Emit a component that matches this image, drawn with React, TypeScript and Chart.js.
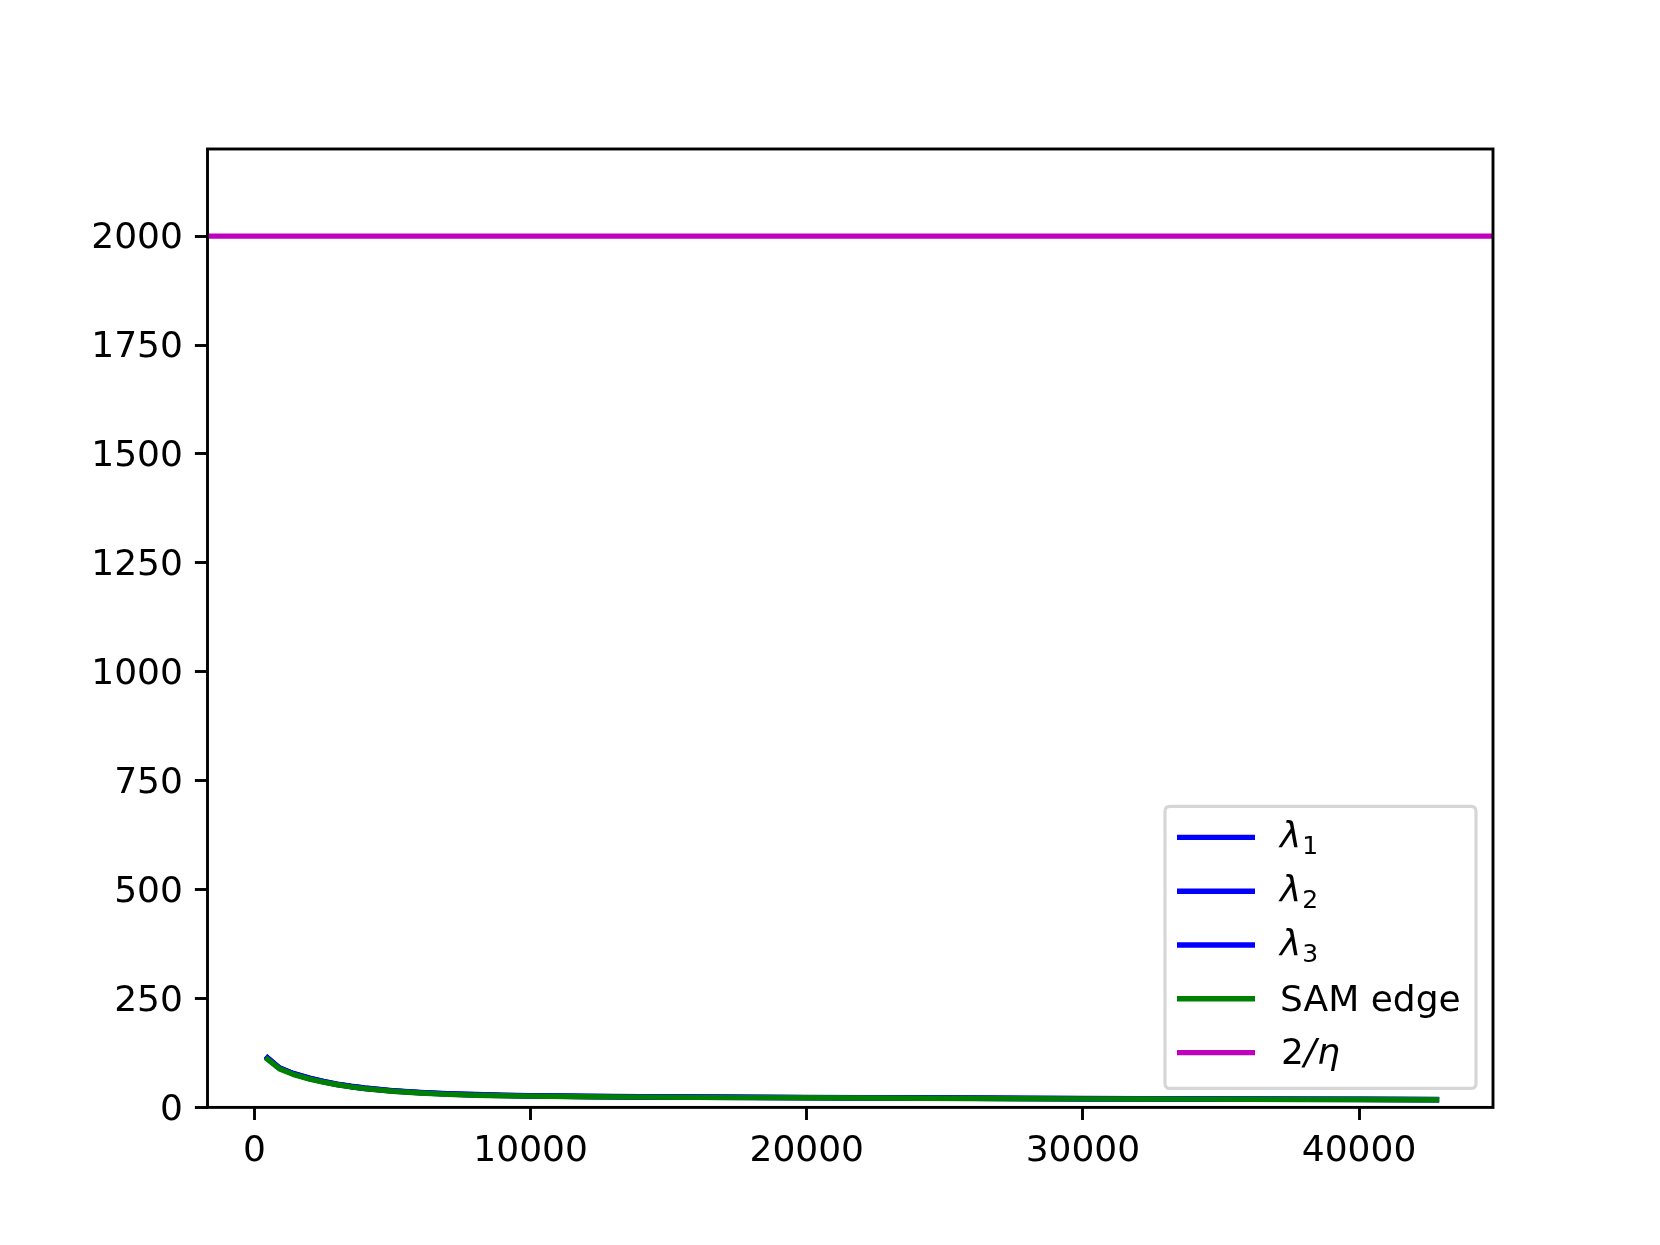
import React, { useEffect, useRef } from "react";
import { Chart, registerables } from "chart.js";
Chart.register(...registerables);

// ---- data ----
const steps = [400, 900, 1400, 2000, 2500, 3000, 3500, 4000, 5000, 6000, 7000, 8000, 9000, 10000, 12000, 14000, 16000, 18000, 20000, 22000, 24000, 26000, 28000, 30000, 32000, 34000, 36000, 38000, 40000, 42000, 42900];
const lambda1 = [118, 91, 78, 67, 59.5, 53.5, 48.5, 44.5, 38.5, 34.5, 31.5, 29.5, 28, 27, 25.5, 24.5, 24, 23.5, 23, 22.5, 22, 21.5, 21, 20.5, 20, 19.6, 19.3, 19, 18.7, 18.3, 18.1];
const lambda2 = [117, 90.5, 77.5, 66.5, 59, 53, 48, 44, 38, 34, 31, 29, 27.5, 26.5, 25, 24, 23.5, 23, 22.5, 22, 21.5, 21, 20.5, 20, 19.6, 19.3, 19, 18.7, 18.4, 18, 17.8];
const lambda3 = [116, 90, 77, 66, 58.5, 52.5, 47.5, 43.5, 37.5, 33.5, 30.5, 28.5, 27, 26, 24.8, 23.8, 23.2, 22.7, 22.2, 21.7, 21.2, 20.7, 20.2, 19.8, 19.4, 19.1, 18.8, 18.5, 18.2, 17.8, 17.6];
const samEdge = [114, 89, 76, 65, 58, 52, 47, 43, 37, 33, 30, 28, 26.8, 25.8, 24.5, 23.5, 23, 22.5, 22, 21.5, 21, 20.5, 20, 19.6, 19.2, 18.9, 18.6, 18.3, 18, 17.6, 17.4];
const etaLevel = 2000;

const xTickValues = [0, 10000, 20000, 30000, 40000];
const yTickValues = [0, 250, 500, 750, 1000, 1250, 1500, 1750, 2000];
const X_MIN = -1700;
const X_MAX = 44850;
const Y_MIN = 0;
const Y_MAX = 2200;

const legendEntries = [
  { kind: "lambda", sub: "1", color: "#0000ff" },
  { kind: "lambda", sub: "2", color: "#0000ff" },
  { kind: "lambda", sub: "3", color: "#0000ff" },
  { kind: "text", text: "SAM edge", color: "#008000" },
  { kind: "eta", color: "#bf00bf" },
];

const FONT = "'DejaVu Sans', sans-serif";
const LW = 5.4;

const toPoints = (xs: number[], ys: number[]) => xs.map((x, i) => ({ x, y: ys[i] }));

const framePlugin = {
  id: "frame",
  afterDatasetsDraw(chart: any) {
    const { ctx, chartArea: a } = chart;
    ctx.save();
    ctx.strokeStyle = "#000";
    ctx.lineWidth = 2.9;
    ctx.strokeRect(a.left, a.top, a.right - a.left, a.bottom - a.top);
    ctx.restore();
  },
};

const legendPlugin = {
  id: "mplLegend",
  afterDraw(chart: any) {
    const { ctx, chartArea: a } = chart;
    const boxRight = a.right - 17;
    const boxBottom = a.bottom - 19;
    const boxW = 311;
    const boxH = 282;
    const boxLeft = boxRight - boxW;
    const boxTop = boxBottom - boxH;
    ctx.save();
    const r = 5;
    ctx.beginPath();
    ctx.moveTo(boxLeft + r, boxTop);
    ctx.lineTo(boxRight - r, boxTop);
    ctx.quadraticCurveTo(boxRight, boxTop, boxRight, boxTop + r);
    ctx.lineTo(boxRight, boxBottom - r);
    ctx.quadraticCurveTo(boxRight, boxBottom, boxRight - r, boxBottom);
    ctx.lineTo(boxLeft + r, boxBottom);
    ctx.quadraticCurveTo(boxLeft, boxBottom, boxLeft, boxBottom - r);
    ctx.lineTo(boxLeft, boxTop + r);
    ctx.quadraticCurveTo(boxLeft, boxTop, boxLeft + r, boxTop);
    ctx.closePath();
    ctx.fillStyle = "rgba(255,255,255,0.8)";
    ctx.fill();
    ctx.strokeStyle = "rgba(204,204,204,0.8)";
    ctx.lineWidth = 3.2;
    ctx.stroke();

    const lineX0 = boxLeft + 12;
    const lineX1 = boxLeft + 90;
    const textX = boxLeft + 115;
    const row0 = boxTop + 31;
    const rowGap = 53.8;
    ctx.fillStyle = "#000";
    legendEntries.forEach((e, i) => {
      const y = row0 + i * rowGap;
      ctx.beginPath();
      ctx.moveTo(lineX0, y);
      ctx.lineTo(lineX1, y);
      ctx.strokeStyle = e.color;
      ctx.lineWidth = LW;
      ctx.lineCap = "butt";
      ctx.stroke();
      ctx.textBaseline = "alphabetic";
      ctx.textAlign = "left";
      if (e.kind === "lambda") {
        ctx.font = `oblique 36px ${FONT}`;
        ctx.fillText("λ", textX, y + 10);
        const w = ctx.measureText("λ").width;
        ctx.font = `25px ${FONT}`;
        ctx.fillText(e.sub as string, textX + w + 1, y + 16.5);
      } else if (e.kind === "text") {
        ctx.font = `36px ${FONT}`;
        ctx.fillText(e.text as string, textX, y + 12);
      } else {
        ctx.font = `36px ${FONT}`;
        ctx.fillText("2", textX + 1, y + 11);
        let x = textX + 1 + ctx.measureText("2").width;
        ctx.font = `oblique 36px ${FONT}`;
        ctx.fillText("/", x, y + 11);
        x += ctx.measureText("/").width + 1;
        ctx.fillText("η", x, y + 11);
      }
    });
    ctx.restore();
  },
};

export default function App() {
  const ref = useRef<HTMLCanvasElement>(null);
  useEffect(() => {
    document.body.style.margin = "0";
    const canvas = ref.current!;
    Chart.defaults.font.family = FONT;
    const mk = (label: string, ys: number[], color: string, order: number) => ({
      label,
      data: toPoints(steps, ys),
      borderColor: color,
      backgroundColor: color,
      borderWidth: LW,
      pointRadius: 0,
      tension: 0,
      fill: false,
      order,
      borderJoinStyle: "round" as const,
    });
    const chart = new Chart(canvas, {
      type: "line",
      data: {
        datasets: [
          mk("λ1", lambda1, "#0000ff", 3),
          mk("λ2", lambda2, "#0000ff", 2),
          mk("λ3", lambda3, "#0000ff", 1),
          mk("SAM edge", samEdge, "#008000", 0),
          {
            label: "2/η",
            data: [
              { x: X_MIN, y: etaLevel },
              { x: X_MAX, y: etaLevel },
            ],
            borderColor: "#bf00bf",
            backgroundColor: "#bf00bf",
            borderWidth: LW,
            pointRadius: 0,
            fill: false,
            order: 4,
          },
        ],
      },
      options: {
        responsive: false,
        animation: false,
        devicePixelRatio: 1,
        layout: { padding: { left: 0, right: 167, top: 149, bottom: 0 } },
        plugins: { legend: { display: false }, tooltip: { enabled: false } },
        scales: {
          x: {
            type: "linear",
            min: X_MIN,
            max: X_MAX,
            afterBuildTicks: (s: any) => {
              s.ticks = xTickValues.map((v) => ({ value: v }));
            },
            afterFit: (s: any) => {
              s.height = 137.6;
              s.paddingLeft = 0;
              s.paddingRight = 0;
            },
            grid: {
              drawOnChartArea: false,
              drawTicks: true,
              tickLength: 12.6,
              tickColor: "#000",
              tickWidth: 2.9,
            },
            border: { display: false },
            ticks: {
              color: "#000",
              font: { size: 36, family: FONT },
              padding: 10,
              maxRotation: 0,
              autoSkip: false,
              callback: (v: any) => String(v),
            },
          },
          y: {
            type: "linear",
            min: Y_MIN,
            max: Y_MAX,
            afterBuildTicks: (s: any) => {
              s.ticks = yTickValues.map((v) => ({ value: v }));
            },
            afterFit: (s: any) => {
              s.width = 207.5;
              s.paddingTop = 0;
              s.paddingBottom = 0;
            },
            grid: {
              drawOnChartArea: false,
              drawTicks: true,
              tickLength: 12.6,
              tickColor: "#000",
              tickWidth: 2.9,
            },
            border: { display: false },
            ticks: {
              color: "#000",
              font: { size: 36, family: FONT },
              padding: 12,
              labelOffset: 3,
              autoSkip: false,
              callback: (v: any) => String(v),
            },
          },
        },
      },
      plugins: [framePlugin, legendPlugin],
    } as any);
    return () => chart.destroy();
  }, []);
  return (
    <div style={{ width: 1660, height: 1245, background: "#fff" }}>
      <canvas ref={ref} width={1660} height={1245} style={{ display: "block" }} />
    </div>
  );
}
